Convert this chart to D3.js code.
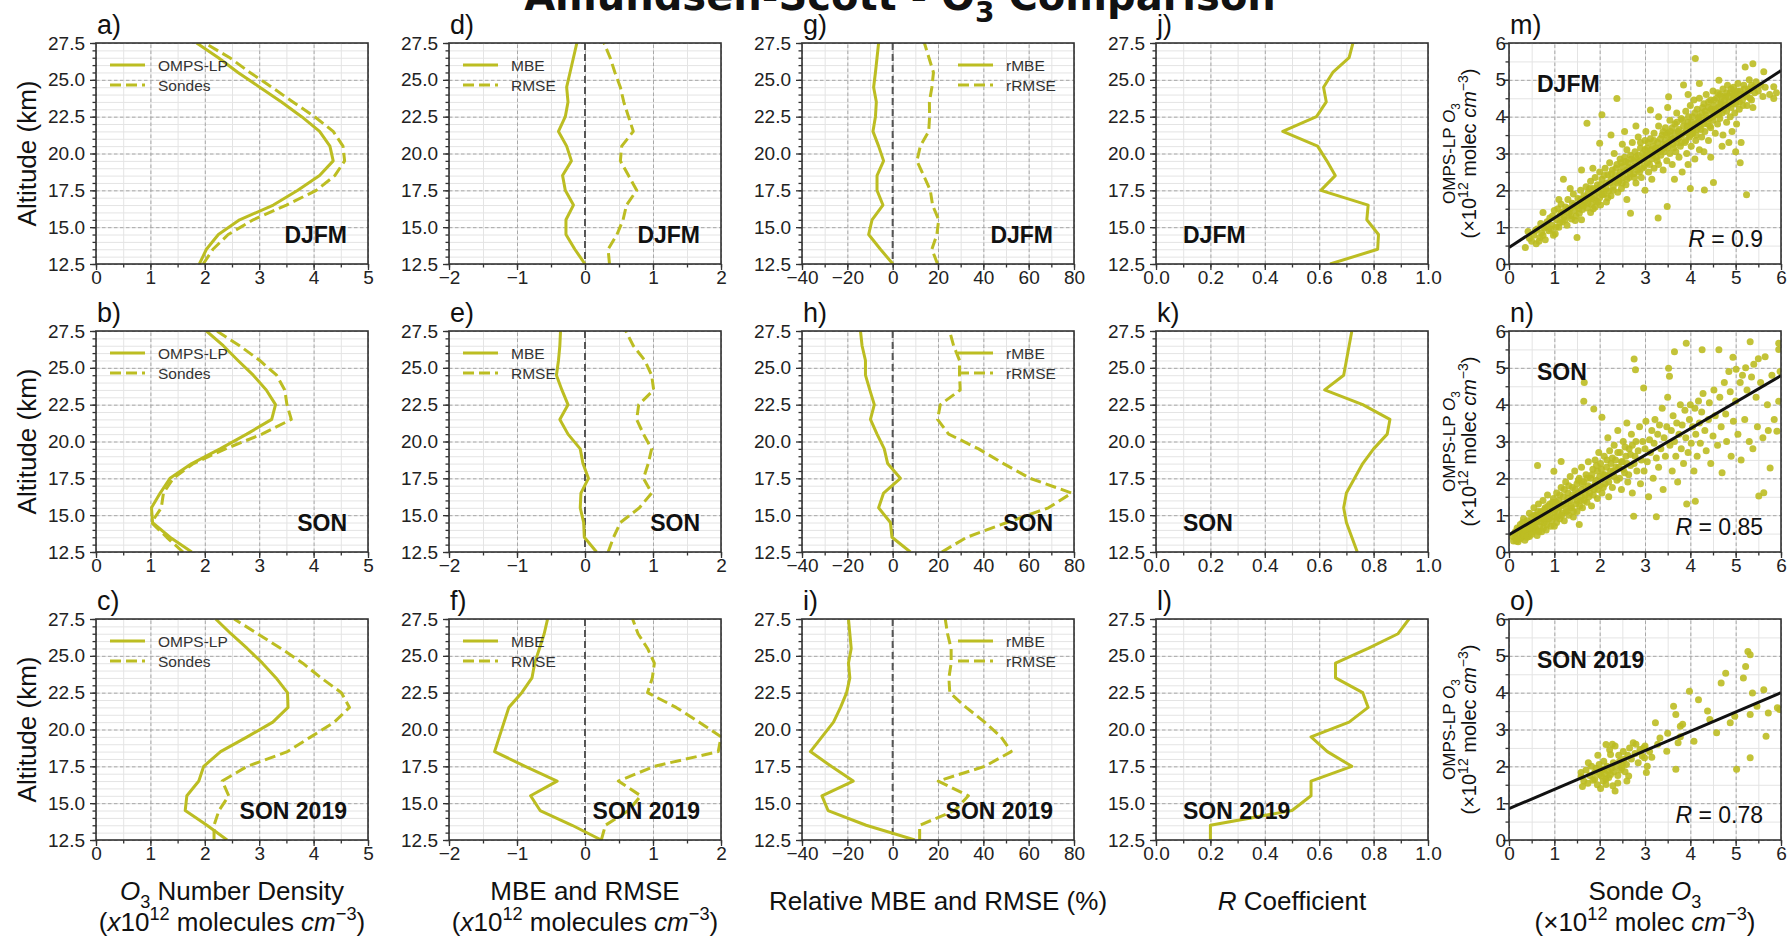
<!DOCTYPE html>
<html><head><meta charset="utf-8">
<script src="https://cdn.jsdelivr.net/npm/d3@7/dist/d3.min.js"></script>
<style>
html,body{margin:0;padding:0;background:#fff;}
svg{display:block;}
</style></head>
<body>
<svg id="chart" width="1787" height="937"></svg>
<script>
// ---------------- DATA ----------------
const altitudes = [12.5,13.5,14.5,15.5,16.5,17.5,18.5,19.5,20.5,21.5,22.5,23.5,24.5,25.5,26.5,27.5];
const seasons = ["DJFM","SON","SON 2019"];
const panelLetters = [["a)","d)","g)","j)","m)"],["b)","e)","h)","k)","n)"],["c)","f)","i)","l)","o)"]];
const altTicks = [12.5,15,17.5,20,22.5,25,27.5];
const densityTicks = [0,1,2,3,4,5];
const biasTicks = [-2,-1,0,1,2];
const relTicks = [-40,-20,0,20,40,60,80];
const rTicks = [0,0.2,0.4,0.6,0.8,1.0];
const scatterTicks = [0,1,2,3,4,5,6];
const legendDensity = ["OMPS-LP","Sondes"];
const legendBias = ["MBE","RMSE"];
const legendRel = ["rMBE","rRMSE"];

// O3 number density (x1e12 molecules cm-3), altitude 12.5 -> 27.5 km
const ompsDJFM  = [1.90,2.03,2.25,2.64,3.26,3.71,4.11,4.36,4.30,4.11,3.78,3.41,3.01,2.61,2.25,1.85];
const sondeDJFM = [1.97,2.15,2.43,2.89,3.50,4.05,4.39,4.57,4.54,4.36,4.02,3.62,3.23,2.83,2.46,2.00];
const ompsSON   = [1.76,1.36,1.04,1.02,1.18,1.36,1.76,2.28,2.77,3.23,3.30,3.13,2.89,2.61,2.34,2.03];
const sondeSON  = [1.60,1.30,1.02,1.20,1.24,1.42,1.79,2.38,3.05,3.59,3.51,3.47,3.32,3.01,2.64,2.22];
const ompsSON2019  = [2.41,2.04,1.64,1.67,1.89,1.98,2.29,2.78,3.25,3.53,3.52,3.31,3.06,2.78,2.48,2.20];
const sondeSON2019 = [2.17,2.17,2.26,2.44,2.32,2.78,3.52,3.95,4.38,4.66,4.51,4.14,3.80,3.40,2.97,2.54];

// MBE / RMSE (x1e12 molecules cm-3)
const mbeDJFM  = [0.00,-0.15,-0.28,-0.28,-0.17,-0.29,-0.33,-0.20,-0.27,-0.39,-0.29,-0.25,-0.27,-0.22,-0.17,-0.12];
const rmseDJFM = [0.36,0.34,0.47,0.56,0.61,0.76,0.64,0.52,0.54,0.71,0.64,0.57,0.52,0.44,0.37,0.28];
const mbeSON   = [0.17,-0.01,-0.02,-0.07,-0.06,0.05,-0.03,-0.07,-0.25,-0.37,-0.25,-0.34,-0.42,-0.39,-0.37,-0.36];
const rmseSON  = [0.34,0.42,0.52,0.80,0.98,0.86,0.93,0.98,0.86,0.76,0.79,1.01,0.98,0.88,0.71,0.60];
const mbeSON2019  = [0.24,-0.19,-0.66,-0.80,-0.41,-0.88,-1.33,-1.26,-1.19,-1.12,-0.93,-0.78,-0.74,-0.67,-0.60,-0.55];
const rmseSON2019 = [0.24,0.30,0.64,0.82,0.49,1.02,1.96,2.00,1.68,1.34,0.92,0.99,1.02,0.92,0.78,0.70];

// relative MBE / RMSE (%)
const rmbeDJFM  = [0.1,-5.4,-10.6,-9.1,-4.3,-6.9,-6.9,-4.0,-6.2,-8.7,-7.6,-7.2,-8.4,-7.6,-6.9,-6.2];
const rrmseDJFM = [19.8,17.3,19.5,20.3,17.6,16.6,13.7,10.7,12.2,15.9,16.3,16.2,17.3,18.0,16.0,14.0];
const rmbeSON   = [7.8,-0.3,-1.0,-6.2,-4.0,3.4,-2.2,-3.7,-6.9,-9.8,-8.1,-10.1,-12.0,-12.0,-13.5,-14.2];
const rrmseSON  = [21.7,32.7,50.4,68.7,79.0,60.6,48.9,37.9,24.7,19.8,21.0,29.8,29.5,29.5,26.9,25.1];
const rmbeSON2019  = [9.8,-11.7,-28.5,-31.2,-17.4,-27.1,-36.3,-31.2,-26.1,-23.0,-20.3,-18.9,-19.5,-18.3,-18.9,-19.5];
const rrmseSON2019 = [11.9,11.9,27.3,33.4,20.1,40.6,52.3,47.8,40.6,32.4,25.2,24.8,25.8,25.8,24.2,23.2];

// R coefficient
const rDJFM    = [0.64,0.815,0.818,0.775,0.78,0.606,0.659,0.628,0.594,0.466,0.59,0.626,0.616,0.65,0.71,0.724];
const rSON     = [0.74,0.72,0.70,0.69,0.70,0.73,0.76,0.80,0.85,0.86,0.76,0.62,0.69,0.70,0.71,0.72];
const rSON2019 = [0.20,0.20,0.50,0.57,0.57,0.72,0.63,0.57,0.71,0.78,0.76,0.66,0.66,0.78,0.89,0.93];

// Scatter: [sonde O3, OMPS-LP O3]
const scatterDJFM = [
[0.36,0.45],[0.42,0.88],[0.5,0.62],[0.55,0.78],[0.6,0.55],[0.62,0.95],[0.68,0.72],[0.7,1.1],[0.72,0.85],[0.78,0.98],[0.8,0.66],[0.84,1.15],[0.88,0.9],[0.9,1.25],[0.95,1.05],[0.98,0.78],[1.0,1.45],[1.02,0.82],[1.05,1.2],[1.08,1.5],[1.1,1.0],[1.12,1.32],
[1.15,1.62],[1.18,1.15],[1.2,1.42],[1.22,1.28],[1.25,1.55],[1.28,1.05],[1.3,1.75],[1.32,1.38],[1.35,1.5],[1.38,1.22],[1.4,1.65],[1.42,1.9],[1.45,1.45],[1.48,1.3],[1.5,0.72],[1.5,1.58],[1.52,1.78],[1.55,1.38],[1.58,2.0],[1.6,1.62],[1.6,1.2],
[1.62,1.48],[1.65,1.85],[1.68,1.7],[1.7,2.1],[1.72,3.82],[1.72,1.52],[1.75,1.95],[1.78,1.78],[1.8,1.4],[1.8,2.25],[1.82,1.62],[1.85,2.05],[1.88,1.85],[1.9,2.35],[1.9,1.55],[1.92,1.72],[1.95,2.15],[1.98,1.95],[2.0,2.5],[2.0,1.8],[2.02,1.6],[2.05,2.3],[2.05,4.05],[2.08,2.05],[2.1,1.9],[2.12,2.6],[2.15,2.2],[2.15,1.68],[2.18,2.42],[2.2,1.98],
[2.22,2.75],[2.25,2.3],[2.25,1.85],[2.28,2.55],[2.3,2.1],[2.32,3.0],[2.35,2.4],[2.38,4.49],[2.38,2.7],[2.4,1.95],[2.42,2.25],[2.45,2.85],[2.45,2.5],[2.48,2.05],[2.5,2.65],[2.5,3.25],[2.52,2.35],[2.55,2.9],[2.58,2.15],[2.6,2.55],[2.6,3.1],[2.62,2.75],[2.65,2.35],[2.68,1.38],[2.68,2.95],[2.7,2.6],[2.72,3.3],[2.75,2.45],[2.75,2.8],[2.78,3.05],[2.8,2.2],
[2.82,2.65],[2.85,2.95],[2.85,3.45],[2.88,2.5],[2.9,3.15],[2.9,2.8],[2.92,2.35],[2.95,3.0],[2.98,2.65],[3.0,3.35],[3.0,2.9],[3.02,3.6],[3.05,2.75],[3.05,3.15],[3.08,2.5],[3.1,3.0],[3.12,4.18],[3.12,3.4],[3.15,2.85],[3.18,3.2],[3.2,2.6],[3.2,3.55],[3.22,3.05],[3.25,2.9],[3.28,3.3],[3.29,1.25],[3.3,2.7],[3.3,3.75],[3.32,3.15],[3.35,2.95],[3.38,3.5],[3.4,3.25],[3.4,2.55],
[3.42,3.05],[3.45,3.7],[3.45,3.35],[3.48,2.8],[3.5,3.55],[3.5,3.15],[3.52,4.54],[3.49,1.56],[3.55,3.0],[3.55,3.9],[3.58,3.4],[3.6,3.7],[3.6,2.7],[3.62,3.25],[3.65,3.55],[3.68,3.05],[3.7,3.85],[3.7,4.1],[3.72,3.4],[3.75,2.9],[3.75,3.65],[3.78,3.2],[3.8,3.95],[3.8,3.5],[3.82,2.5],[3.85,4.86],[3.85,3.75],[3.88,3.3],[3.9,4.15],[3.9,3.6],[3.92,3.0],[3.95,3.85],[3.98,3.45],[4.0,4.3],[4.0,3.7],[4.0,2.05],
[4.02,3.2],[4.05,4.0],[4.05,3.55],[4.08,4.45],[4.1,3.8],[4.11,5.58],[4.12,3.35],[4.15,4.2],[4.15,3.65],[4.18,3.95],[4.2,4.5],[4.2,3.1],[4.22,3.75],[4.25,4.1],[4.25,3.45],[4.28,3.9],[4.3,4.35],[4.31,2.01],[4.32,3.6],[4.35,4.6],[4.35,4.05],[4.38,3.8],[4.4,4.25],[4.4,3.35],[4.42,3.95],[4.45,4.45],[4.45,3.7],[4.48,4.15],[4.5,4.7],[4.5,3.9],[4.51,2.21],[4.52,4.3],[4.55,3.55],[4.55,4.05],[4.58,4.5],[4.6,3.8],
[4.62,4.25],[4.63,4.99],[4.65,4.6],[4.65,3.95],[4.68,4.4],[4.7,4.1],[4.72,4.75],[4.72,3.5],[4.75,4.3],[4.78,4.55],[4.8,3.85],[4.8,4.15],[4.82,4.85],[4.85,4.4],[4.88,4.0],[4.88,4.65],[4.9,4.25],[4.92,3.6],[4.95,4.5],[4.95,4.8],[4.98,4.1],[5.0,4.35],[5.0,4.65],[5.02,3.8],[5.05,4.5],[5.05,4.9],[5.08,4.2],[5.1,4.7],[5.12,3.3],[5.15,4.45],[5.18,4.85],[5.2,4.6],[5.21,5.35],
[5.24,1.88],[5.25,4.3],[5.28,4.75],[5.3,5.0],[5.32,4.5],[5.35,4.85],[5.38,5.44],[5.38,4.25],[5.42,4.65],[5.45,4.95],[5.5,4.7],[5.55,4.85],[5.6,4.55],[5.62,5.22],[5.65,4.8],[5.75,4.6],[5.84,4.81],[5.84,4.49],[5.9,4.65],
[1.2,2.3],[1.35,2.05],[1.6,2.55],[2.0,3.28],[2.25,3.5],[2.6,1.75],[2.8,3.75],[3.0,2.0],[3.15,2.3],[3.5,4.25],[3.65,2.3],[3.95,2.7],[4.1,2.85],[4.3,3.05],[4.45,2.9],[4.7,3.2],[4.85,3.3],[5.0,3.05],[5.1,2.75],[3.3,4.0],[2.55,3.6],[1.85,2.6],[1.1,1.75],[0.75,1.4],[4.2,4.9],[3.95,4.6],
[0.45,0.7],[0.58,0.9],[0.66,0.62],[0.75,0.78],[0.82,1.02],[0.92,0.95],[0.96,1.3],[1.04,1.0],[1.12,1.12],[1.16,1.4],[1.24,1.2],[1.3,1.5],[1.36,1.32],[1.44,1.6],[1.46,1.18],
[1.54,1.5],[1.58,1.75],[1.64,1.58],[1.7,1.8],[1.74,1.65],[1.78,2.05],[1.84,1.78],[1.86,1.5],[1.93,2.05],[1.96,1.68],[2.02,2.15],[2.06,1.88],[2.1,2.4],[2.14,2.05],[2.18,1.8],[2.22,2.2],[2.26,2.45],[2.3,2.0],[2.34,2.25],[2.36,2.6],[2.4,2.2],[2.44,2.4],[2.47,2.75],[2.5,2.2],
[2.54,2.5],[2.57,2.78],[2.6,2.3],[2.64,2.62],[2.67,2.45],[2.7,2.85],[2.74,2.65],[2.77,2.35],[2.8,2.9],[2.84,2.55],[2.87,2.78],[2.9,3.3],[2.94,2.6],[2.97,2.85],[3.0,3.1],[3.04,2.95],[3.07,3.3],[3.1,2.7],[3.14,3.1],[3.17,2.95],[3.2,3.35],[3.24,3.15],[3.27,2.8],[3.3,3.05],[3.34,3.4],[3.37,3.1],[3.4,3.6],[3.44,3.2],[3.47,3.5],
[3.52,3.3],[3.56,3.6],[3.6,3.4],[3.63,3.15],[3.66,3.8],[3.7,3.3],[3.73,3.6],[3.76,3.45],[3.8,3.3],[3.83,3.9],[3.86,3.55],[3.9,3.35],[3.93,3.75],[3.96,4.0],[4.0,3.5],[4.03,3.85],[4.06,3.65],[4.1,4.1],[4.13,3.5],[4.16,3.85],[4.2,4.0],[4.23,3.65],[4.27,4.25],[4.3,3.8],[4.33,4.15],[4.36,3.95],[4.4,4.4],[4.43,3.75],[4.46,4.2],[4.49,4.0],
[4.53,4.45],[4.56,4.2],[4.6,4.65],[4.63,4.05],[4.66,4.35],[4.7,4.55],[4.73,4.2],[4.76,4.45],[4.8,4.65],[4.83,4.3],[4.86,4.55],[4.9,4.75],[4.93,4.35],[4.97,4.6],[5.0,4.45],[5.04,4.7],[5.08,4.4],[5.12,4.6],[5.16,4.3],[5.2,4.75],[5.25,4.55],[5.3,4.7],[5.35,4.45],[5.4,4.8]
];
const scatterSON = [
[0.1,0.3],[0.12,0.5],[0.15,0.38],[0.18,0.65],[0.2,0.28],[0.22,0.48],[0.25,0.75],[0.28,0.4],[0.3,0.58],[0.32,0.9],[0.35,0.32],[0.35,0.7],[0.38,0.5],[0.4,0.85],[0.42,0.62],[0.45,1.05],[0.45,0.42],[0.48,0.75],[0.5,0.95],[0.52,0.55],[0.55,1.2],[0.55,0.8],[0.58,0.65],[0.6,1.0],[0.62,0.45],[0.63,2.35],[0.65,0.88],[0.65,1.3],[0.68,0.7],[0.7,1.1],[0.72,0.55],[0.75,0.95],[0.75,1.4],[0.78,0.8],[0.8,1.2],[0.82,0.6],[0.85,1.05],[0.85,1.55],[0.88,0.9],[0.9,1.3],[0.92,0.7],[0.95,1.15],[0.98,1.45],[0.99,2.19],[1.0,0.95],
[1.02,1.25],[1.05,0.8],[1.05,1.6],[1.08,1.1],[1.1,1.4],[1.12,0.9],[1.15,1.75],[1.15,2.46],[1.15,1.25],[1.18,1.05],[1.2,1.5],[1.22,0.85],[1.25,1.3],[1.25,1.9],[1.28,1.1],[1.3,1.6],[1.32,1.0],[1.35,1.4],[1.35,2.05],[1.38,1.2],[1.4,1.75],[1.42,0.95],[1.45,1.5],[1.45,2.2],[1.48,1.3],[1.5,1.85],[1.5,1.1],[1.52,1.6],[1.55,2.0],[1.55,0.75],[1.58,1.4],[1.6,2.3],[1.6,1.7],
[1.62,1.2],[1.65,4.09],[1.66,4.6],[1.65,1.9],[1.68,1.55],[1.7,2.1],[1.72,1.35],[1.75,1.8],[1.75,2.45],[1.78,1.6],[1.8,2.0],[1.82,1.25],[1.85,2.25],[1.87,3.88],[1.88,1.7],[1.9,2.5],[1.92,1.95],[1.95,1.45],[1.95,2.2],[1.98,2.7],[2.0,1.8],[2.02,2.4],[2.05,3.66],[2.05,1.6],[2.08,2.1],[2.1,2.6],[2.12,1.85],[2.15,2.3],[2.18,3.1],[2.2,1.5],[2.2,2.05],[2.22,2.75],[2.25,2.4],[2.28,1.75],[2.3,2.2],[2.32,2.9],[2.35,2.5],[2.38,1.95],[2.4,3.3],
[2.42,2.3],[2.45,2.7],[2.48,1.7],[2.5,2.45],[2.52,3.0],[2.55,2.15],[2.58,2.6],[2.6,3.5],[2.62,1.9],[2.65,2.8],[2.68,2.35],[2.7,3.2],[2.72,1.6],[2.75,0.97],[2.76,5.24],[2.78,2.6],[2.79,4.95],[2.8,3.0],[2.82,2.2],[2.85,2.75],[2.88,3.4],[2.9,1.85],[2.92,2.5],[2.95,3.0],[2.97,4.45],[2.98,2.2],[3.0,2.8],[3.02,3.55],[3.05,2.45],[3.08,1.5],[3.1,3.05],[3.12,2.7],[3.15,3.3],[3.18,2.0],[3.2,2.95],
[3.22,3.6],[3.25,0.96],[3.25,2.55],[3.28,3.2],[3.3,2.3],[3.32,3.45],[3.35,2.8],[3.38,3.9],[3.4,1.7],[3.42,3.1],[3.45,2.6],[3.48,3.4],[3.5,4.2],[3.52,4.99],[3.54,4.77],[3.55,2.9],[3.58,3.3],[3.6,2.2],[3.62,3.7],[3.65,5.44],[3.65,3.0],[3.68,2.6],[3.7,3.5],[3.72,1.9],[3.75,3.2],[3.78,4.0],[3.8,2.8],[3.82,3.45],[3.85,2.4],[3.88,3.85],[3.91,5.67],[3.9,3.1],[3.92,1.3],[3.95,2.7],[3.98,3.6],[4.0,4.0],[4.02,2.95],[4.05,3.4],[4.08,2.2],[4.1,3.9],[4.11,1.38],[4.12,3.2],[4.15,2.6],[4.18,4.1],[4.2,3.5],[4.22,2.95],[4.25,3.8],[4.26,5.49],[4.28,4.3],
[4.32,3.3],[4.35,2.75],[4.4,3.6],[4.42,4.05],[4.45,2.4],[4.5,3.15],[4.52,4.4],[4.55,3.7],[4.6,2.9],[4.63,5.49],[4.65,4.2],[4.68,3.4],[4.7,2.15],[4.75,4.6],[4.78,3.75],[4.8,3.0],[4.85,4.9],[4.88,4.35],[4.9,2.6],[4.94,5.29],[4.95,3.55],[5.0,4.1],[5.01,4.96],[5.05,3.2],[5.1,4.6],[5.12,2.5],[5.15,4.8],[5.2,3.6],[5.22,5.0],[5.25,4.4],[5.3,3.0],[5.32,5.71],[5.35,4.75],[5.38,2.8],[5.4,5.1],[5.45,4.2],[5.48,3.4],[5.5,5.25],[5.51,1.52],[5.55,4.6],[5.6,3.1],[5.62,1.61],[5.65,5.3],[5.7,4.0],[5.72,3.3],[5.76,2.28],[5.8,4.8],[5.85,3.6],[5.91,3.28],[5.95,4.09],[5.95,5.67],[5.95,5.5],[5.98,4.9],
[0.08,0.42],[0.14,0.55],[0.16,0.3],[0.2,0.6],[0.24,0.35],[0.26,0.55],[0.3,0.8],[0.33,0.45],[0.36,0.6],[0.4,0.4],[0.42,0.78],[0.46,0.6],[0.5,0.48],[0.5,0.8],[0.53,0.68],[0.56,1.0],[0.6,0.6],[0.6,0.82],[0.64,1.1],[0.66,0.55],[0.7,0.82],[0.72,1.0],[0.76,0.65],[0.78,1.15],[0.8,0.9],[0.84,0.75],[0.86,1.25],[0.9,1.0],[0.94,0.85],[0.96,1.35],[1.0,1.1],[1.0,0.7],
[1.04,1.35],[1.06,0.95],[1.1,1.2],[1.12,1.55],[1.16,1.0],[1.2,1.3],[1.22,1.7],[1.26,1.15],[1.3,1.45],[1.32,1.8],[1.36,1.25],[1.4,1.55],[1.42,1.1],[1.46,1.7],[1.5,1.4],[1.53,1.95],[1.56,1.25],[1.6,1.5],[1.62,1.85],[1.66,1.4],[1.7,1.7],[1.72,2.0],[1.76,1.5],[1.8,1.75],[1.83,2.1],[1.86,1.55],[1.9,1.85],[1.93,2.35],[1.96,1.7],[2.0,2.05],
[2.04,2.25],[2.08,1.75],[2.12,2.1],[2.16,2.5],[2.2,1.9],[2.24,2.2],[2.28,2.55],[2.32,2.05],[2.36,2.3],[2.4,2.7],[2.44,2.0],[2.48,2.45],[2.52,2.25],[2.56,2.85],[2.6,2.4],[2.64,2.1],[2.68,2.65],[2.72,2.9],[2.76,2.4]
];
const scatterSON2019 = [
[1.59,1.83],[1.59,1.72],[1.65,1.6],[1.7,1.9],[1.74,1.54],[1.78,1.75],[1.82,2.0],[1.85,1.62],[1.89,1.83],[1.89,1.65],[1.92,1.95],[1.95,1.5],[1.99,2.05],[2.0,1.78],[2.04,1.74],[2.05,1.9],[2.08,1.6],[2.09,2.14],[2.09,1.92],[2.12,1.8],[2.14,1.65],[2.14,1.51],[2.14,2.59],[2.16,2.0],[2.19,1.87],[2.2,1.7],[2.22,2.45],[2.24,1.78],[2.24,2.32],[2.26,1.95],[2.29,1.47],[2.3,2.1],[2.32,1.85],[2.34,1.33],[2.34,2.55],[2.36,2.0],[2.4,1.75],[2.42,2.3],[2.44,2.14],[2.46,1.9],[2.49,1.96],[2.5,2.05],[2.52,2.4],[2.54,2.19],[2.56,1.85],[2.59,2.05],[2.62,2.3],[2.64,1.74],[2.7,2.2],[2.74,2.64],[2.78,2.35],[2.85,2.1],[2.89,2.46],[2.94,2.28],[2.97,2.5],[2.99,2.23],[3.03,1.83],[3.1,2.4],[3.23,3.18],[3.28,2.6],[3.33,2.77],[3.48,2.41],[3.63,3.63],[3.68,3.41],[3.68,1.92],[3.73,2.64],[3.78,3.09],[3.83,3.14],[3.98,4.04],[4.08,2.68],[4.18,3.81],[4.38,3.5],[4.43,3.27],[4.58,2.91],[4.68,4.26],[4.78,4.53],[4.88,3.18],[4.98,3.36],[5.02,1.92],[5.17,4.40],[5.22,4.71],[5.27,5.12],[5.32,5.03],[5.32,3.41],[5.32,2.23],[5.37,3.99],[5.47,3.63],[5.62,4.08],[5.67,2.82],[5.72,3.45],[5.92,3.59],[5.97,3.54],
[1.62,1.45],[1.75,2.1],[1.96,2.3],[2.02,1.4],[2.28,2.6],[2.4,1.55],[2.6,1.6],[2.66,2.5],[2.8,2.6],[3.0,2.55],[3.05,2.0],[3.15,2.25],[3.5,2.9],[3.78,2.8]
];
// regression fits [intercept, slope]
const fitDJFM = [0.45,0.80];
const fitSON = [0.47,0.72];
const fitSON2019 = [0.85,0.525];
const rValues = ["0.9","0.85","0.78"];

// ---------------- LAYOUT ----------------
const OLIVE = "#bcbd22";
const FONT = "'Liberation Sans', Arial, Helvetica, sans-serif";
const colX = [96, 449, 802, 1156, 1509];
const rowY = [43, 331, 619];
const PW = 272, PH = 221;
const minus = v => (v < 0 ? "\u2212" + Math.abs(v) : String(v));

const svg = d3.select("#chart");
svg.append("rect").attr("width",1787).attr("height",937).attr("fill","#fff");

function rich(sel, parts, size) {
  let shift = 0;
  parts.forEach(p => {
    const target = p.sub ? size*0.3 : p.sup ? -size*0.42 : 0;
    const ts = sel.append("tspan").attr("dy", target - shift).text(p.t);
    shift = target;
    if (p.it) ts.attr("font-style","italic");
    if (p.sub || p.sup) ts.attr("font-size", size*0.7);
  });
}

const colConf = [
  {domain:[0,5], ticks:densityTicks, minor:d3.range(0,5.01,0.5), fmt:d=>String(d)},
  {domain:[-2,2], ticks:biasTicks, minor:d3.range(-2,2.01,0.5), fmt:minus, zero:true},
  {domain:[-40,80], ticks:relTicks, minor:d3.range(-40,80.1,10), fmt:minus, zero:true},
  {domain:[0,1], ticks:rTicks, minor:d3.range(0,1.01,0.1), fmt:d3.format(".1f")},
  {domain:[0,6], ticks:scatterTicks, minor:d3.range(0,6.01,0.5), fmt:d=>String(d)}
];

const rowSeries = [
  {dens:[ompsDJFM,sondeDJFM], bias:[mbeDJFM,rmseDJFM], rel:[rmbeDJFM,rrmseDJFM], r:rDJFM, sc:scatterDJFM, fit:fitDJFM},
  {dens:[ompsSON,sondeSON], bias:[mbeSON,rmseSON], rel:[rmbeSON,rrmseSON], r:rSON, sc:scatterSON, fit:fitSON},
  {dens:[ompsSON2019,sondeSON2019], bias:[mbeSON2019,rmseSON2019], rel:[rmbeSON2019,rrmseSON2019], r:rSON2019, sc:scatterSON2019, fit:fitSON2019}
];

function styleGrid(g, major) {
  g.select(".domain").remove();
  g.selectAll("line").attr("stroke", major ? "#a8a8a8" : "#e4e4e4")
    .attr("stroke-width", 1).attr("stroke-dasharray", major ? "3.5,2.5" : null);
}
function styleAxis(g) {
  g.select(".domain").remove();
  g.selectAll("line").attr("stroke","#333").attr("stroke-width",1.3);
  g.selectAll("text").attr("font-family",FONT).attr("font-size",19).attr("fill","#222");
}

rowSeries.forEach((rs, ri) => {
  for (let ci = 0; ci < 5; ci++) {
    const c = colConf[ci];
    const g = svg.append("g").attr("transform",`translate(${colX[ci]},${rowY[ri]})`);
    const x = d3.scaleLinear().domain(c.domain).range([0,PW]);
    const isSc = ci === 4;
    const y = isSc ? d3.scaleLinear().domain([0,6]).range([PH,0])
                   : d3.scaleLinear().domain([12.5,27.5]).range([PH,0]);
    const yMajor = isSc ? scatterTicks : altTicks;
    const yMinor = isSc ? d3.range(0,6.01,0.5) : d3.range(12.5,27.51,0.5);

    const clipId = `clip${ri}${ci}`;
    g.append("clipPath").attr("id",clipId).append("rect").attr("width",PW).attr("height",PH);

    g.append("g").attr("transform",`translate(0,${PH})`)
      .call(d3.axisBottom(x).tickValues(c.minor).tickSize(-PH).tickFormat(""))
      .call(s=>styleGrid(s,false));
    g.append("g").call(d3.axisLeft(y).tickValues(yMinor).tickSize(-PW).tickFormat(""))
      .call(s=>styleGrid(s,false));
    g.append("g").attr("transform",`translate(0,${PH})`)
      .call(d3.axisBottom(x).tickValues(c.ticks).tickSize(-PH).tickFormat(""))
      .call(s=>styleGrid(s,true));
    g.append("g").call(d3.axisLeft(y).tickValues(yMajor).tickSize(-PW).tickFormat(""))
      .call(s=>styleGrid(s,true));

    const plot = g.append("g").attr("clip-path",`url(#${clipId})`);

    if (c.zero) {
      plot.append("line").attr("x1",x(0)).attr("x2",x(0)).attr("y1",0).attr("y2",PH)
        .attr("stroke","#555").attr("stroke-width",2).attr("stroke-dasharray","7,4");
    }

    const line = d3.line().x(d=>x(d[0])).y(d=>y(d[1]));
    let pair = null, legend = null, legendRight = false;
    if (ci === 0) { pair = rs.dens; legend = legendDensity; }
    if (ci === 1) { pair = rs.bias; legend = legendBias; }
    if (ci === 2) { pair = rs.rel; legend = legendRel; legendRight = true; }

    if (pair) {
      pair.forEach((vals, k) => {
        plot.append("path").datum(vals.map((v,i)=>[v, altitudes[i]]))
          .attr("d", line).attr("fill","none").attr("stroke",OLIVE).attr("stroke-width",3)
          .attr("stroke-linejoin","round")
          .attr("stroke-dasharray", k === 1 ? "11,5" : null);
      });
      const lx = legendRight ? PW - 116 : 14;
      legend.forEach((lab, k) => {
        const ly = 22 + 20*k;
        g.append("line").attr("x1",lx).attr("x2",lx+35).attr("y1",ly).attr("y2",ly)
          .attr("stroke",OLIVE).attr("stroke-width",3).attr("stroke-dasharray", k===1 ? "11,5" : null);
        g.append("text").attr("x",lx+48).attr("y",ly+5.5).attr("font-family",FONT)
          .attr("font-size",15.5).attr("fill","#333").text(lab);
      });
    }
    if (ci === 3) {
      plot.append("path").datum(rs.r.map((v,i)=>[v, altitudes[i]]))
        .attr("d", line).attr("fill","none").attr("stroke",OLIVE).attr("stroke-width",3)
        .attr("stroke-linejoin","round");
    }
    if (isSc) {
      plot.append("g").selectAll("circle").data(rs.sc).join("circle")
        .attr("cx",d=>x(d[0])).attr("cy",d=>y(d[1])).attr("r",3.5)
        .attr("fill",OLIVE).attr("fill-opacity",0.9);
      plot.append("line").attr("x1",x(0)).attr("y1",y(rs.fit[0]))
        .attr("x2",x(6)).attr("y2",y(rs.fit[0]+6*rs.fit[1]))
        .attr("stroke","#111").attr("stroke-width",3);
      const rt = g.append("text").attr("x",PW-18).attr("y",PH-17).attr("text-anchor","end")
        .attr("font-family",FONT).attr("font-size",23).attr("fill","#111");
      rt.append("tspan").attr("font-style","italic").text("R");
      rt.append("tspan").text(" = " + rValues[ri]);
    }

    g.append("rect").attr("width",PW).attr("height",PH).attr("fill","none")
      .attr("stroke","#333").attr("stroke-width",1.6);

    g.append("g").attr("transform",`translate(0,${PH})`)
      .call(d3.axisBottom(x).tickValues(c.minor).tickSize(3.5).tickFormat(""))
      .call(styleAxis);
    g.append("g").attr("transform",`translate(0,${PH})`)
      .call(d3.axisBottom(x).tickValues(c.ticks).tickSize(6).tickPadding(1).tickFormat(c.fmt))
      .call(styleAxis);
    g.append("g").call(d3.axisLeft(y).tickValues(yMinor).tickSize(3.5).tickFormat(""))
      .call(styleAxis);
    g.append("g").call(d3.axisLeft(y).tickValues(yMajor).tickSize(6)
      .tickPadding(isSc ? -3 : 5).tickFormat(isSc ? (d=>String(d)) : d3.format(".1f")))
      .call(styleAxis);

    g.append("text").attr("x",1).attr("y",-9).attr("font-family",FONT).attr("font-size",27)
      .attr("fill","#111").text(panelLetters[ri][ci]);

    const st = g.append("text").attr("font-family",FONT).attr("font-size",23)
      .attr("font-weight","bold").attr("fill","#111").text(seasons[ri]);
    if (ci <= 2) st.attr("x",PW-21).attr("y",PH-21).attr("text-anchor","end");
    else if (ci === 3) st.attr("x",27).attr("y",PH-21);
    else st.attr("x",28).attr("y",49);
  }

  svg.append("text").attr("transform",`translate(36,${rowY[ri]+PH/2}) rotate(-90)`)
    .attr("text-anchor","middle").attr("font-family",FONT).attr("font-size",26).attr("fill","#111")
    .text("Altitude (km)");
  const y1 = svg.append("text").attr("transform",`translate(1455,${rowY[ri]+PH/2}) rotate(-90)`)
    .attr("text-anchor","middle").attr("font-family",FONT).attr("font-size",17).attr("fill","#111");
  rich(y1, [{t:"OMPS-LP "},{t:"O",it:true},{t:"3",sub:true}], 17);
  const y2 = svg.append("text").attr("transform",`translate(1476,${rowY[ri]+PH/2}) rotate(-90)`)
    .attr("text-anchor","middle").attr("font-family",FONT).attr("font-size",20).attr("fill","#111");
  rich(y2, [{t:"(\u00d710"},{t:"12",sup:true},{t:" molec "},{t:"cm",it:true},{t:"\u22123",sup:true},{t:")"}], 20);
});

function bottomText(cx, yb, parts, size) {
  const t = svg.append("text").attr("x",cx).attr("y",yb).attr("text-anchor","middle")
    .attr("font-family",FONT).attr("font-size",size).attr("fill","#111");
  rich(t, parts, size);
}
const cc = colX.map(v=>v+PW/2);
const unitsLine = [{t:"("},{t:"x",it:true},{t:"10"},{t:"12",sup:true},{t:" molecules "},{t:"cm",it:true},{t:"\u22123",sup:true},{t:")"}];
bottomText(cc[0], 900, [{t:"O",it:true},{t:"3",sub:true},{t:" Number Density"}], 26);
bottomText(cc[0], 931, unitsLine, 26);
bottomText(cc[1], 900, [{t:"MBE and RMSE"}], 26);
bottomText(cc[1], 931, unitsLine, 26);
bottomText(cc[2], 910, [{t:"Relative MBE and RMSE (%)"}], 26);
bottomText(cc[3], 910, [{t:"R",it:true},{t:" Coefficient"}], 26);
bottomText(cc[4], 900, [{t:"Sonde "},{t:"O",it:true},{t:"3",sub:true}], 26);
bottomText(cc[4], 931, [{t:"(\u00d710"},{t:"12",sup:true},{t:" molec "},{t:"cm",it:true},{t:"\u22123",sup:true},{t:")"}], 26);

// title (its top is cut off by the figure edge, as in the reference)
const title = svg.append("text").attr("x",900).attr("y",10).attr("text-anchor","middle")
  .attr("font-family","'DejaVu Sans', sans-serif").attr("font-weight","bold").attr("font-size",40)
  .attr("fill","#111");
rich(title, [{t:"Amundsen-Scott - O"},{t:"3",sub:true},{t:" Comparison"}], 40);
</script>
</body></html>
